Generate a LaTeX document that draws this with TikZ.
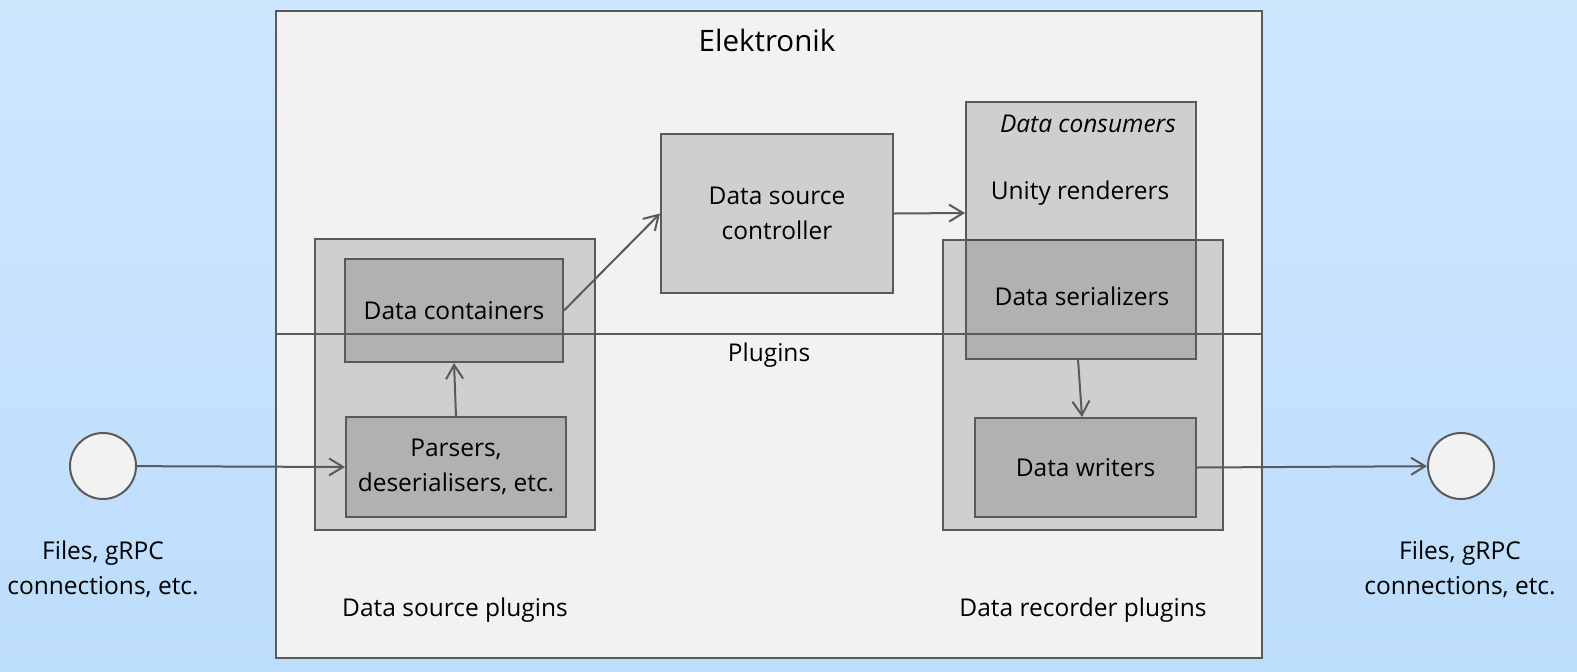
\documentclass[tikz,border=0pt]{standalone}
\usepackage{fontspec}
\setmainfont{Open Sans}
\usetikzlibrary{arrows.meta}
\definecolor{bgtop}{HTML}{CFE6FF}
\definecolor{bgbot}{HTML}{BCDDFB}
\definecolor{panel}{HTML}{F2F2F2}
\definecolor{edge}{HTML}{5A5A5A}
\tikzset{
  every node/.style={font=\fontsize{24.5pt}{35pt}\selectfont, text=black},
  panelbox/.style={draw=edge, line width=2pt, fill=panel, rectangle, inner sep=0pt},
  graybox/.style={draw=edge, line width=2pt, fill=black, fill opacity=0.14, text opacity=1, rectangle, inner sep=0pt, align=center},
  port/.style={draw=edge, line width=2pt, fill=panel, circle, minimum size=66pt, inner sep=0pt},
  label/.style={align=center, inner sep=0pt},
  conn/.style={draw=edge, line width=2pt, -{Straight Barb[length=14pt,width=17pt,line width=2pt]}},
}
\begin{document}
\begin{tikzpicture}[x=1pt,y=-1pt]
\useasboundingbox (0,0) rectangle (1577,672);
\shade[top color=bgtop, bottom color=bgbot] (0,0) rectangle (1577,672);
% main panel
\node[panelbox, minimum width=986pt, minimum height=647pt] (main) at (769,334.5) {};
\node[label, font=\fontsize{29.5pt}{35pt}\selectfont] (title) at (767,40) {Elektronik};
% group boxes
\node[graybox, minimum width=280pt, minimum height=291pt] (dsp) at (455,384.5) {};
\node[graybox, minimum width=280pt, minimum height=290pt] (drp) at (1083,385) {};
\node[graybox, minimum width=230pt, minimum height=257pt] (cons) at (1081,230.5) {};
% inner boxes
\node[graybox, minimum width=218pt, minimum height=103pt] (cont) at (454,310.5) {Data containers};
\node[graybox, minimum width=220pt, minimum height=100pt] (pars) at (456,467) {Parsers,\\deserialisers, etc.};
\node[graybox, minimum width=232pt, minimum height=159pt] (ctrl) at (777,213.5) {Data source\\controller};
\node[graybox, minimum width=221pt, minimum height=99pt] (wri) at (1085.5,467.5) {Data writers};
% texts in consumers
\node[label, font=\fontsize{24.5pt}{35pt}\selectfont\itshape] (constitle) at (1088,124) {Data consumers};
\node[label] (unity) at (1080,193) {Unity renderers};
\node[label] (ser) at (1082,296) {Data serializers};
\coordinate (serb) at (1078,359);
% plugin divider
\coordinate (divl) at (276,334);
\coordinate (divr) at (1262,334);
\draw[edge, line width=2pt] (divl) -- (divr);
\node[label] (plug) at (769,355) {Plugins};
\node[label] (dspl) at (455,610) {Data source plugins};
\node[label] (drpl) at (1083,610) {Data recorder plugins};
% ports
\node[port] (inp) at (103,466) {};
\node[port] (outp) at (1461,466) {};
\node[label] (inl) at (103,569) {Files, gRPC\\connections, etc.};
\node[label] (outl) at (1460,569) {Files, gRPC\\connections, etc.};
% connectors
\draw[conn] (inp) -- (pars.west);
\draw[conn] (pars.north) -- (cont.south);
\draw[conn] (cont.east) -- (ctrl.west);
\draw[conn] (ctrl.east) -- (cons.west |- 0,213);
\draw[conn] (serb) -- (wri.north -| 1082,0);
\draw[conn] (wri.east) -- (outp);
\end{tikzpicture}
\end{document}
